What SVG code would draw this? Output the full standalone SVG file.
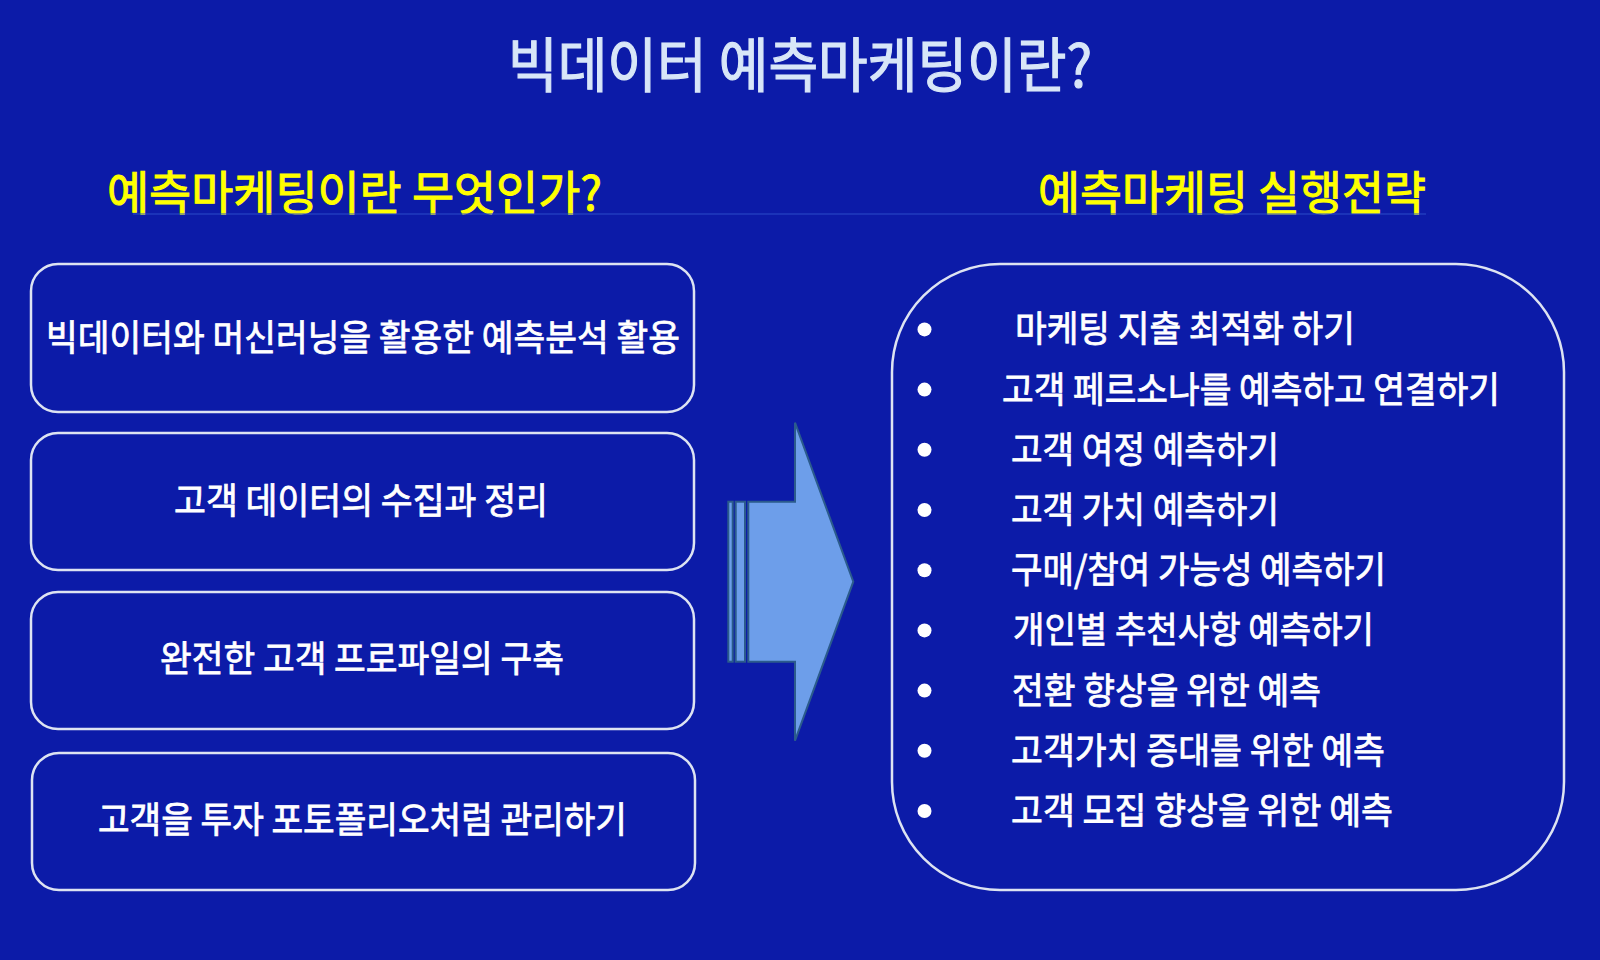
<svg xmlns="http://www.w3.org/2000/svg" width="1600" height="960" viewBox="0 0 1600 960">
<style>
.t{font-family:"Noto Sans CJK KR","Noto Sans",sans-serif;dominant-baseline:central;font-weight:400}
.title{font-size:59px;fill:#d8e6f8;stroke:#d8e6f8;stroke-width:1.2}
.head{font-size:47px;fill:#ffff00;stroke:#ffff00;stroke-width:1}
.box{fill:none;stroke:#dde3f2;stroke-width:2.5}
.bt{font-size:36px;fill:#ffffff;stroke:#ffffff;stroke-width:0.8}
.li{font-size:36px;fill:#ffffff;stroke:#ffffff;stroke-width:0.8}
.bul{fill:#ffffff}
.arr{fill:#6d9eea;stroke:#2b5b8c;stroke-width:2}
</style>
<rect x="0" y="0" width="1600" height="960" fill="#0c1ba8"/>
<g id="title">
<text class="t title" x="508" y="61" textLength="584" lengthAdjust="spacingAndGlyphs">빅데이터 예측마케팅이란?</text>
</g>
<g id="headings">
<text class="t head" x="107" y="189" textLength="495" lengthAdjust="spacingAndGlyphs">예측마케팅이란 무엇인가?</text>
<text class="t head" x="1038" y="189" textLength="388" lengthAdjust="spacingAndGlyphs">예측마케팅 실행전략</text>
<line x1="133" y1="214" x2="1426" y2="214" stroke="#2a4cc8" stroke-width="1.2"/>
</g>
<g id="box1">
<rect class="box" x="31" y="264" width="663" height="148" rx="27"/>
<text class="t bt" x="46" y="335" textLength="634" lengthAdjust="spacingAndGlyphs">빅데이터와 머신러닝을 활용한 예측분석 활용</text>
</g>
<g id="box2">
<rect class="box" x="31" y="433" width="663" height="137" rx="27"/>
<text class="t bt" x="174" y="498" textLength="374" lengthAdjust="spacingAndGlyphs">고객 데이터의 수집과 정리</text>
</g>
<g id="box3">
<rect class="box" x="31" y="592" width="663" height="137" rx="27"/>
<text class="t bt" x="160" y="656" textLength="404" lengthAdjust="spacingAndGlyphs">완전한 고객 프로파일의 구축</text>
</g>
<g id="box4">
<rect class="box" x="32" y="753" width="663" height="137" rx="27"/>
<text class="t bt" x="98" y="817" textLength="529" lengthAdjust="spacingAndGlyphs">고객을 투자 포토폴리오처럼 관리하기</text>
</g>
<g id="arrow">
<rect class="arr" x="728.3" y="501.7" width="4.4" height="160"/>
<rect class="arr" x="735.7" y="501.7" width="9.3" height="160"/>
<polygon class="arr" points="748.3,501.7 795,501.7 795,422.7 853.3,581.7 795,740.7 795,661.7 748.3,661.7"/>
</g>
<g id="strategy">
<rect class="box" x="892" y="264" width="672" height="626" rx="108"/>
<circle class="bul" cx="924.5" cy="329.4" r="7"/>
<circle class="bul" cx="924.5" cy="389.6" r="7"/>
<circle class="bul" cx="924.5" cy="449.8" r="7"/>
<circle class="bul" cx="924.5" cy="510" r="7"/>
<circle class="bul" cx="924.5" cy="570.2" r="7"/>
<circle class="bul" cx="924.5" cy="630.4" r="7"/>
<circle class="bul" cx="924.5" cy="690.6" r="7"/>
<circle class="bul" cx="924.5" cy="750.8" r="7"/>
<circle class="bul" cx="924.5" cy="811" r="7"/>
<text class="t li" x="1015" y="326.4" textLength="340" lengthAdjust="spacingAndGlyphs">마케팅 지출 최적화 하기</text>
<text class="t li" x="1002" y="386.6" textLength="498" lengthAdjust="spacingAndGlyphs">고객 페르소나를 예측하고 연결하기</text>
<text class="t li" x="1011" y="446.8" textLength="268" lengthAdjust="spacingAndGlyphs">고객 여정 예측하기</text>
<text class="t li" x="1011" y="507" textLength="268" lengthAdjust="spacingAndGlyphs">고객 가치 예측하기</text>
<text class="t li" x="1011" y="567.2" textLength="375" lengthAdjust="spacingAndGlyphs">구매/참여 가능성 예측하기</text>
<text class="t li" x="1013" y="627.4" textLength="361" lengthAdjust="spacingAndGlyphs">개인별 추천사항 예측하기</text>
<text class="t li" x="1012" y="687.6" textLength="309" lengthAdjust="spacingAndGlyphs">전환 향상을 위한 예측</text>
<text class="t li" x="1011" y="747.8" textLength="374" lengthAdjust="spacingAndGlyphs">고객가치 증대를 위한 예측</text>
<text class="t li" x="1011" y="808" textLength="382" lengthAdjust="spacingAndGlyphs">고객 모집 향상을 위한 예측</text>
</g>
</svg>
